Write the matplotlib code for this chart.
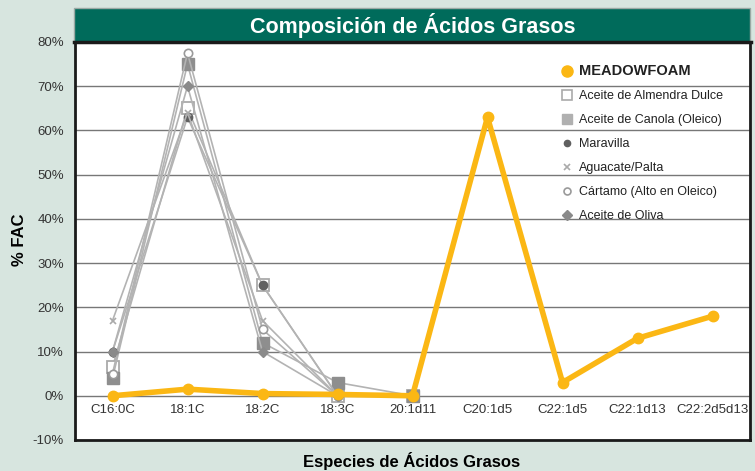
import numpy as np
import matplotlib.pyplot as plt
from matplotlib.patches import Rectangle

plt.rcParams['font.family'] = ['Liberation Sans', 'DejaVu Sans']

# categories (fatty acid species)
acids = ["C16:0C", "18:1C", "18:2C", "18:3C", "20:1d11",
         "C20:1d5", "C22:1d5", "C22:1d13", "C22:2d5d13"]

# % FAC per oil (nan = not reported)
nan = np.nan
meadowfoam = [0, 1.5, 0.5, 0.3, 0, 63, 3, 13, 18]
almendra = [6.5, 65, 25, 0, 0, nan, nan, nan, nan]
canola = [4, 75, 12, 3, 0, nan, nan, nan, nan]
maravilla = [10, 63, 25, 0, nan, nan, nan, nan, nan]
aguacate = [17, 64, 17, 0, nan, nan, nan, nan, nan]
cartamo = [5, 77.5, 15, 0, nan, nan, nan, nan, nan]
oliva = [10, 70, 10, 0, nan, nan, nan, nan, nan]

bg = "#d7e5df"
line_grey = "#b3b3b3"

fig = plt.figure(figsize=(7.55, 4.71), dpi=100, facecolor=bg)
ax = fig.add_axes([75 / 755, 1 - 440 / 471, 675 / 755, 398 / 471])
ax.set_facecolor("white")

x = np.arange(len(acids))

# other oils: (name, values, marker style in plot, marker style in legend)
others = [
    ("Aceite de Almendra Dulce", almendra, dict(marker="s", mfc="white", mec="#aaaaaa", ms=8, mew=1.3),
     dict(ms=7, mew=1.2)),
    ("Aceite de Canola (Oleico)", canola, dict(marker="s", mfc="#8e8e8e", mec="#8e8e8e", ms=8),
     dict(ms=7, mfc="#b0b0b0", mec="#b0b0b0")),
    ("Maravilla", maravilla, dict(marker="o", mfc="#606060", mec="#606060", ms=6),
     dict(ms=4.5)),
    ("Aguacate/Palta", aguacate, dict(marker="x", mfc="#aaaaaa", mec="#aaaaaa", ms=5, mew=1.2),
     dict(ms=5)),
    ("Cártamo (Alto en Oleico)", cartamo, dict(marker="o", mfc="white", mec="#9a9a9a", ms=6, mew=1.2),
     dict(ms=5)),
    ("Aceite de Oliva", oliva, dict(marker="D", mfc="#8a8a8a", mec="#8a8a8a", ms=5),
     dict(ms=5)),
]

ax.plot(x, meadowfoam, color="#fbb714", lw=4, marker="o", ms=7.5, zorder=5)
handles = [ax.plot([], [], ls="none", marker="o", ms=8, color="#fbb714",
                   label="MEADOWFOAM")[0]]
for name, vals, style, leg_style in others:
    ax.plot(x, vals, color=line_grey, lw=1.2, zorder=3, **style)
    st = dict(style)
    st.update(leg_style)
    h, = ax.plot([], [], ls="none", label=name, **st)
    handles.append(h)

ax.set_xlim(-0.5, len(acids) - 0.5)
ax.set_ylim(-10, 80)
ax.set_yticks(np.arange(-10, 81, 10))
ax.set_yticklabels([f"{v}%" for v in range(-10, 81, 10)], fontsize=9.5, color="#333333")
ax.tick_params(axis="y", length=0, pad=8)
ax.set_xticks([])
for i, lab in enumerate(acids):
    ax.text(i, -3.3, lab, ha="center", va="center", fontsize=9.5, color="#333333")

ax.grid(axis="y", color="#777777", lw=1)
ax.set_axisbelow(True)
for s in ["left", "bottom", "right"]:
    ax.spines[s].set_linewidth(2)
    ax.spines[s].set_color("#1a1a1a")
ax.spines["top"].set_visible(False)

fig.text(19 / 755, 1 - 240 / 471, "% FAC", fontsize=12, fontweight="bold",
         rotation=90, ha="center", va="center")
fig.text(412 / 755, 1 - 461 / 471, "Especies de Ácidos Grasos", fontsize=12,
         fontweight="bold", ha="center", va="center")

# title bar
bar = Rectangle((74 / 755, 1 - 42 / 471), 676 / 755, 34 / 471, transform=fig.transFigure,
                facecolor="#006b5b", edgecolor="#9aa9a4", lw=1, zorder=0)
fig.patches.append(bar)
fig.add_artist(plt.Line2D([74 / 755, 751 / 755], [1 - 42 / 471] * 2, color="#1a1a1a", lw=2.5))
fig.text(413 / 755, 1 - 26 / 471, "Composición de Ácidos Grasos", color="white",
         fontsize=15.5, fontweight="bold", ha="center", va="center")

leg = ax.legend(handles=handles, loc="upper left", bbox_to_anchor=(0.7145, 0.957),
                frameon=False, fontsize=9, labelspacing=0.96, handlelength=0.8,
                handletextpad=0.55, borderaxespad=0)
texts = leg.get_texts()
texts[0].set_fontweight("bold")
texts[0].set_fontsize(10.5)
for t in texts:
    t.set_color("#222222")

fig.savefig("out.png", dpi=100, facecolor=bg)
